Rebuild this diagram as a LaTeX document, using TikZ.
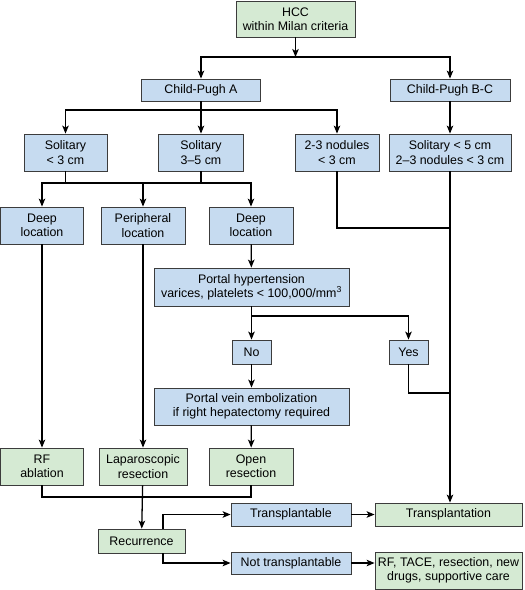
\documentclass[tikz,border=0pt]{standalone}
\usepackage{fontspec}
\setmainfont{Liberation Sans}
\usetikzlibrary{arrows.meta,calc}
\definecolor{gfill}{HTML}{D5EAD3}
\definecolor{bfill}{HTML}{C6DBF0}
\definecolor{edge}{HTML}{3C3C3C}
\tikzset{
  box/.style={draw=edge,line width=0.8pt,inner sep=0pt,align=center,
    font=\fontsize{12.4}{14.2}\selectfont},
  gbox/.style={box,fill=gfill},
  bbox/.style={box,fill=bfill},
  arr/.style={line width=1.3pt,-{Stealth[length=8pt,width=6.5pt,inset=2pt]}},
  ln/.style={line width=1.3pt},
}
\begin{document}
\begin{tikzpicture}[x=1pt,y=-1pt]
\useasboundingbox (0,0) rectangle (525,590);
% nodes
\node[gbox,minimum width=119,minimum height=36] (hcc) at (295.5,19) {HCC\\within Milan criteria};
\node[bbox,minimum width=119,minimum height=22] (cpa) at (201,90) {Child-Pugh A};
\node[bbox,minimum width=120,minimum height=22] (cpb) at (450,90) {Child-Pugh B-C};
\node[bbox,minimum width=83,minimum height=37] (sol3) at (65.5,152.5) {Solitary\\< 3 cm};
\node[bbox,minimum width=85,minimum height=37] (sol35) at (201,152.5) {Solitary\\3--5 cm};
\node[bbox,minimum width=84,minimum height=37] (nod) at (337,152.5) {2-3 nodules\\< 3 cm};
\node[bbox,minimum width=122,minimum height=37] (solbc) at (450,152.5) {Solitary < 5 cm\\2--3 nodules < 3 cm};
\node[bbox,minimum width=83.5,minimum height=37] (deep1) at (42,225.5) {Deep\\location};
\node[bbox,minimum width=84,minimum height=37] (peri) at (143,225.5) {Peripheral\\location};
\node[bbox,minimum width=84,minimum height=37] (deep2) at (251,225.5) {Deep\\location};
\node[bbox,minimum width=195,minimum height=38] (ph) at (251.5,287) {Portal hypertension\\varices, platelets < 100,000/mm\textsuperscript{3}};
\node[bbox,minimum width=39,minimum height=24] (no) at (251.5,352) {No};
\node[bbox,minimum width=39,minimum height=24] (yes) at (408.5,352) {Yes};
\node[bbox,minimum width=195,minimum height=37] (pve) at (251.5,406.5) {Portal vein embolization\\if right hepatectomy required};
\node[gbox,minimum width=83.5,minimum height=37] (rf) at (42,466.5) {RF\\ablation};
\node[gbox,minimum width=88,minimum height=37] (lap) at (143,466.5) {Laparoscopic\\resection};
\node[gbox,minimum width=84,minimum height=37] (open) at (251,466.5) {Open\\resection};
\node[bbox,minimum width=120,minimum height=23] (trans) at (291,514.5) {Transplantable};
\node[gbox,minimum width=147,minimum height=23] (tx) at (448.5,514.5) {Transplantation};
\node[gbox,minimum width=87,minimum height=24] (rec) at (141.5,541) {Recurrence};
\node[bbox,minimum width=120,minimum height=22] (nt) at (291,563) {Not transplantable};
\node[gbox,minimum width=147,minimum height=37] (rft) at (448.5,570.5) {RF, TACE, resection, new\\drugs, supportive care};
% junction coordinates
\coordinate (b1) at (295.5,57);
\coordinate (b2) at (201,110);
\coordinate (b3) at (201,183);
\coordinate (j1) at (450,228);
\coordinate (b4) at (251.5,316);
\coordinate (j2) at (450,393);
\coordinate (b5) at (143,497);
% connectors
\draw[arr] (hcc) -- (b1);
\draw[arr] (b1) -| (cpa);
\draw[arr] (b1) -| (cpb);
\draw[arr] (cpa) -- (sol35);
\draw[ln] (b2) -- (b2 -| nod);
\draw[arr] (b2) -| (sol3);
\draw[arr] (b2) -| (nod);
\draw[arr] (cpb) -- (solbc);
\draw[ln] (sol3) -- (sol3 |- b3);
\draw[ln] (sol35) -- (b3);
\draw[arr] (b3) -| (deep1);
\draw[arr] (b3) -| (peri);
\draw[arr] (b3) -| (deep2);
\draw[ln] (nod) |- (j1);
\draw[arr] (solbc.south) -- (solbc.south |- tx.north);
\draw[arr] (deep2) -- (ph);
\draw[ln] (ph.south) -- (b4);
\draw[arr] (b4) -- (no);
\draw[arr] (b4) -| (yes);
\draw[ln] (yes) |- (j2);
\draw[arr] (no) -- (pve);
\draw[arr] (pve) -- (open);
\draw[arr] (deep1) -- (rf);
\draw[arr] (peri) -- (lap);
\draw[ln] (rf) |- (b5) -| (open);
\draw[arr] (lap) -- (rec);
\draw[arr] ([xshift=21.5pt]rec.north) |- (trans);
\draw[arr] ([xshift=21.5pt]rec.south) |- (nt);
\draw[arr] (trans) -- (tx);
\draw[arr] (nt.east) -- (nt.east -| rft.west);
\end{tikzpicture}
\end{document}
